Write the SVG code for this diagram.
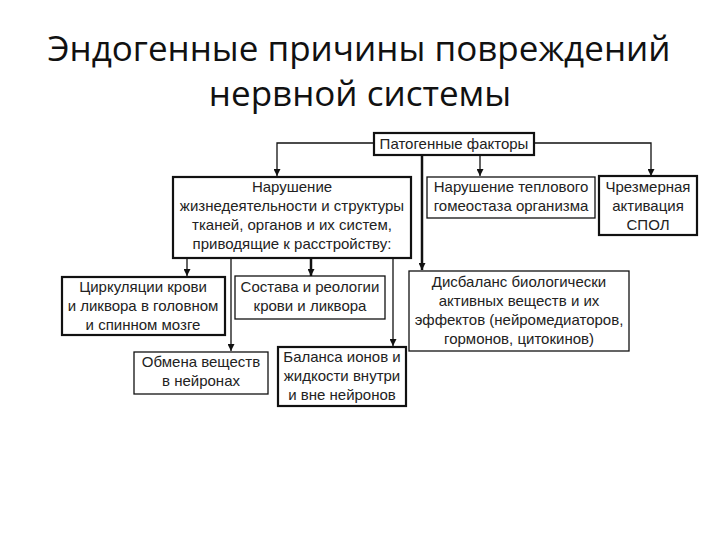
<svg xmlns="http://www.w3.org/2000/svg" width="720" height="540" viewBox="0 0 720 540">
<defs>
<style>
.title{font-family:"Open Sans","Noto Sans",sans-serif;font-size:35px;fill:#111;text-anchor:middle}
.t{font-family:"Liberation Sans",Arial,sans-serif;font-size:15px;fill:#222;text-anchor:middle}
.box{fill:#fff;stroke:#111;stroke-width:1.3}
.thick{fill:#fff;stroke:#111;stroke-width:2.2}
.c{fill:none;stroke:#111;stroke-width:1.3}
.ck{fill:none;stroke:#111;stroke-width:2.5}
</style>
<marker id="ah" viewBox="0 0 10 10" refX="10" refY="5" markerWidth="7" markerHeight="7" markerUnits="userSpaceOnUse" orient="auto">
<path d="M0,0 L10,5 L0,10 Z" fill="#111"/>
</marker>
</defs>
<rect width="720" height="540" fill="#fff"/>
<text class="title" x="359" y="61">Эндогенные причины повреждений</text>
<text class="title" x="360" y="106">нервной системы</text>
<g id="connectors">
<path class="c" d="M374,143 H277 V176" marker-end="url(#ah)"/>
<path class="c" d="M480,155 V176" marker-end="url(#ah)"/>
<path class="c" d="M534,143 H651 V176" marker-end="url(#ah)"/>
<path class="ck" d="M422,155 V270" marker-end="url(#ah)"/>
<path class="c" d="M187,258 V276" marker-end="url(#ah)"/>
<path class="c" d="M231,258 V351" marker-end="url(#ah)"/>
<path class="ck" d="M311,258 V276" marker-end="url(#ah)"/>
<path class="c" d="M393,258 V346" marker-end="url(#ah)"/>
</g>
<g id="patogen">
<rect class="thick" x="374" y="133" width="160" height="22"/>
<text class="t" x="454" y="149">Патогенные факторы</text>
</g>
<g id="box1">
<rect class="thick" x="173" y="177" width="238" height="81"/>
<text class="t" x="292" y="192">Нарушение</text>
<text class="t" x="292" y="211">жизнедеятельности и структуры</text>
<text class="t" x="292" y="230">тканей, органов и их систем,</text>
<text class="t" x="292" y="249">приводящие к расстройству:</text>
</g>
<g id="box2">
<rect class="box" x="427" y="177" width="168" height="41"/>
<text class="t" x="511" y="192">Нарушение теплового</text>
<text class="t" x="511" y="211">гомеостаза организма</text>
</g>
<g id="box3">
<rect class="thick" x="599" y="176" width="98" height="59"/>
<text class="t" x="648" y="192">Чрезмерная</text>
<text class="t" x="648" y="211">активация</text>
<text class="t" x="648" y="230">СПОЛ</text>
</g>
<g id="circ">
<rect class="thick" x="62" y="277" width="163" height="58"/>
<text class="t" x="143" y="292">Циркуляции крови</text>
<text class="t" x="143" y="311">и ликвора в головном</text>
<text class="t" x="143" y="330">и спинном мозге</text>
</g>
<g id="sostav">
<rect class="box" x="235" y="276" width="150" height="43"/>
<text class="t" x="310" y="292">Состава и реологии</text>
<text class="t" x="310" y="311">крови и ликвора</text>
</g>
<g id="disbalans">
<rect class="box" x="409" y="271" width="220" height="80"/>
<text class="t" x="519" y="287">Дисбаланс биологически</text>
<text class="t" x="519" y="306">активных веществ и их</text>
<text class="t" x="519" y="325">эффектов (нейромедиаторов,</text>
<text class="t" x="519" y="344">гормонов, цитокинов)</text>
</g>
<g id="obmen">
<rect class="box" x="134" y="352" width="134" height="42"/>
<text class="t" x="201" y="367">Обмена веществ</text>
<text class="t" x="201" y="386">в нейронах</text>
</g>
<g id="balans">
<rect class="thick" x="278" y="347" width="128" height="59"/>
<text class="t" x="342" y="362">Баланса ионов и</text>
<text class="t" x="342" y="381">жидкости внутри</text>
<text class="t" x="342" y="400">и вне нейронов</text>
</g>
</svg>
